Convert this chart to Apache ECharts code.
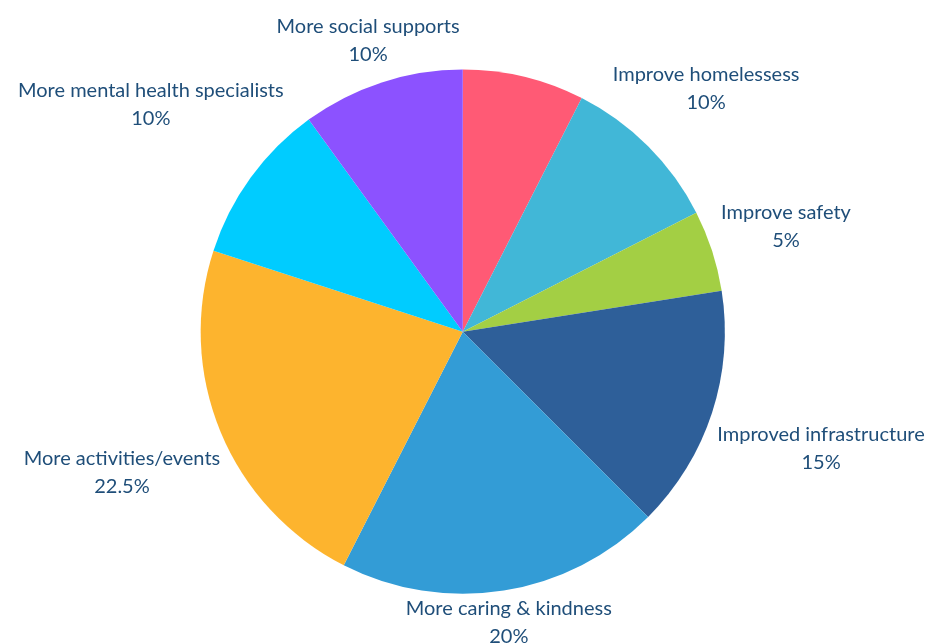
<!DOCTYPE html>
<html>
<head>
<meta charset="utf-8">
<title>Suggested improvements</title>
<script src="https://cdn.jsdelivr.net/npm/echarts@6/dist/echarts.min.js"></script>
<style>
  html, body { margin: 0; padding: 0; background: #ffffff; }
  #chart { width: 933px; height: 644px; }
</style>
</head>
<body>
<div id="chart"></div>
<script>
// Responses by category (percent of respondents), clockwise from 12 o'clock
const categories = [
  'Other',
  'Improve homelessess',
  'Improve safety',
  'Improved infrastructure',
  'More caring & kindness',
  'More activities/events',
  'More mental health specialists',
  'More social supports'
];
const shares = [7.5, 10, 5, 15, 20, 22.5, 10, 10];
const sliceColors = [
  '#ff5a75', '#41b7d7', '#a3cf44', '#2e5f99',
  '#339cd6', '#fdb42e', '#00ccff', '#8c52ff'
];
// slices drawn without a caption
const unlabelled = ['Other'];

const CENTER = ['49.6%', '51.5%'];
const RADIUS = '81.4%';
const LABEL_GAP = 16;

const chart = echarts.init(document.getElementById('chart'));

function pct(v, base) {
  return typeof v === 'string' ? parseFloat(v) / 100 * base : v;
}

// mid angle (radians, clockwise from top) of each slice
const total = shares.reduce((a, b) => a + b, 0);
const midAngles = [];
{
  let acc = 0;
  shares.forEach(v => {
    midAngles.push((acc + v / 2) / total * Math.PI * 2);
    acc += v;
  });
}

chart.setOption({
  backgroundColor: '#ffffff',
  animation: false,
  series: [{
    type: 'pie',
    center: CENTER,
    radius: RADIUS,
    startAngle: 90,
    clockwise: true,
    avoidLabelOverlap: false,
    data: categories.map((name, i) => ({
      name: name,
      value: shares[i],
      itemStyle: { color: sliceColors[i] },
      label: { show: unlabelled.indexOf(name) < 0 }
    })),
    label: {
      show: true,
      position: 'outside',
      formatter: p => '{c|' + p.name + '}\n{c|' + p.value + '%}',
      color: '#1f4e79',
      fontFamily: 'Lato',
      fontSize: 20,
      lineHeight: 28,
      rich: {
        c: {
          align: 'center',
          color: '#1f4e79',
          fontFamily: 'Lato',
          fontSize: 20,
          lineHeight: 28
        }
      }
    },
    labelLine: { show: false, length: 0, length2: 0 },
    emphasis: { disabled: true },
    // each caption is centred on the slice's bisector, pushed out past the rim
    // by a fixed gap plus the horizontal half-width of the text
    labelLayout: function (params) {
      const w = chart.getWidth(), h = chart.getHeight();
      const cx = pct(CENTER[0], w), cy = pct(CENTER[1], h);
      const r = pct(RADIUS, Math.min(w, h) / 2);
      const a = midAngles[params.dataIndex];
      const ux = Math.sin(a), uy = -Math.cos(a);
      const hw = params.labelRect.width / 2;
      const d = r + LABEL_GAP + Math.abs(hw * ux);
      return {
        x: cx + ux * d,
        y: cy + uy * d,
        align: 'center',
        verticalAlign: 'middle'
      };
    }
  }]
});
</script>
</body>
</html>
